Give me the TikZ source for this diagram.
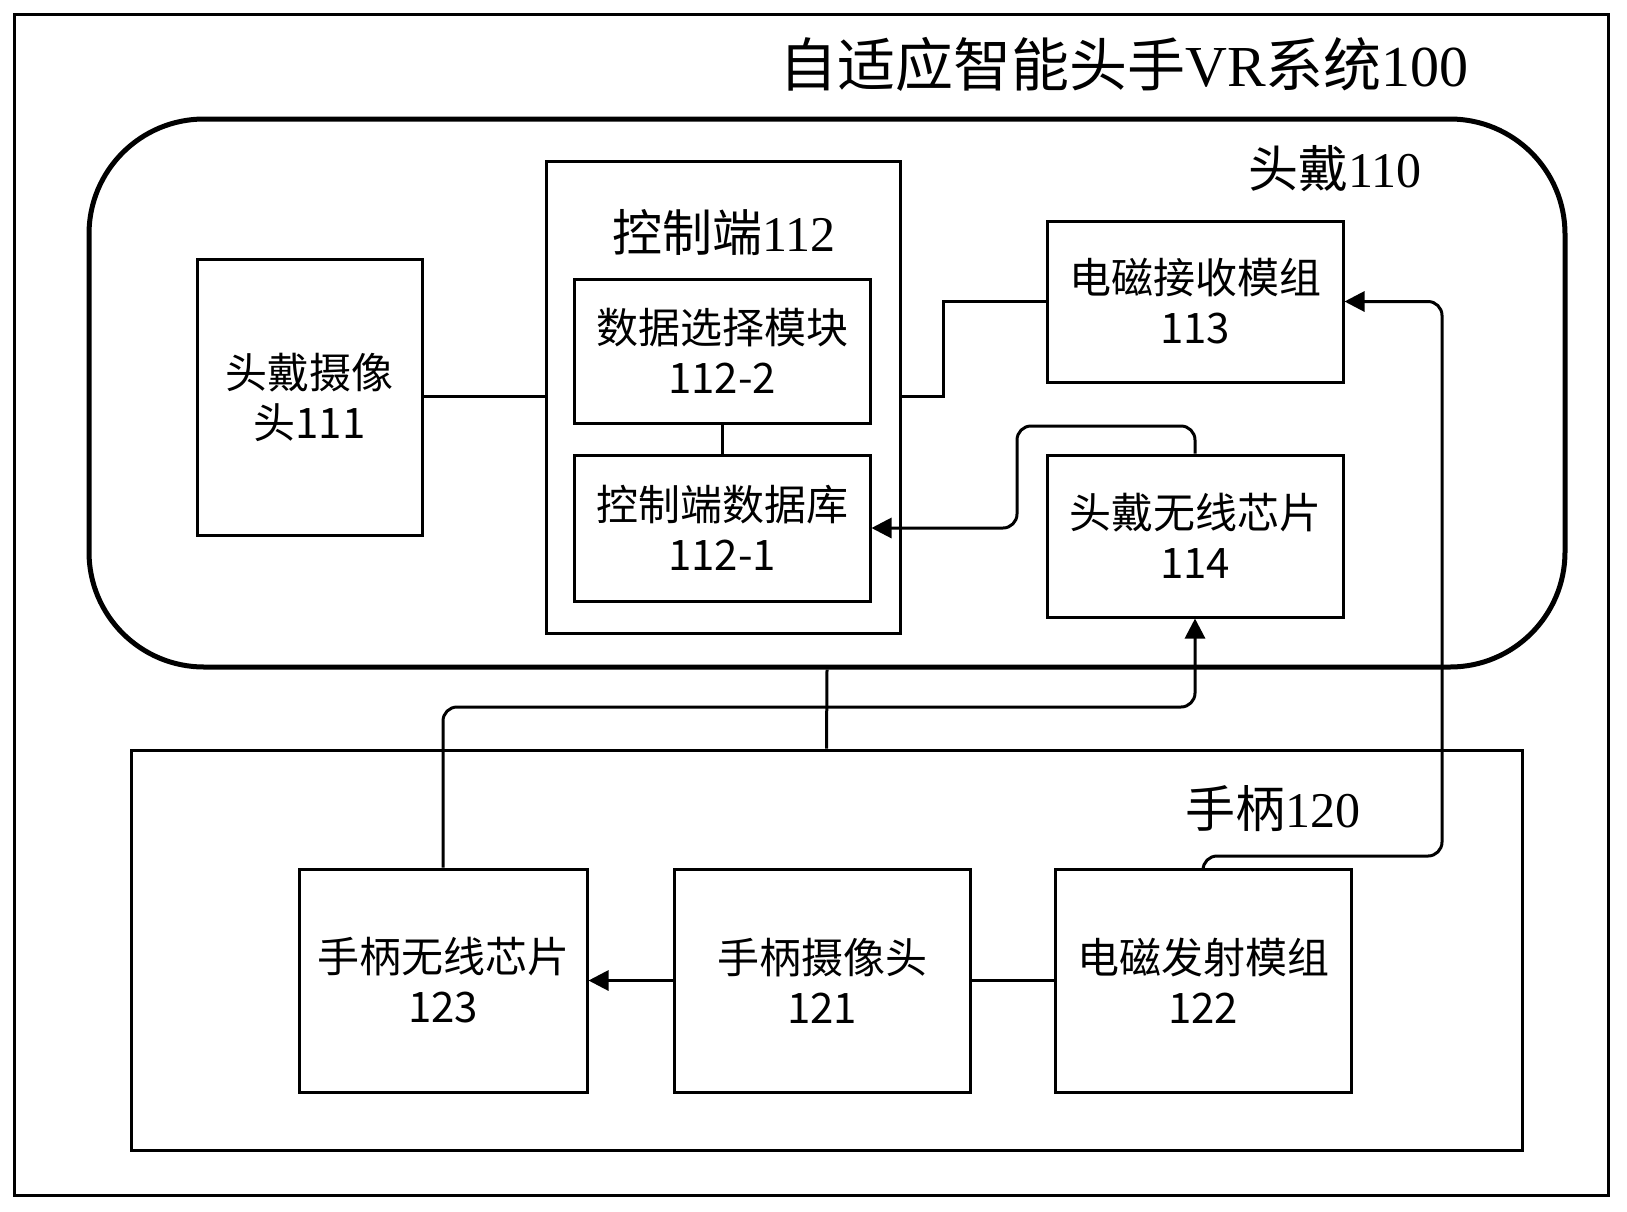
\documentclass[tikz,border=0pt]{standalone}
\usepackage{fontspec}
\setmainfont{Noto Sans CJK SC}
\newfontfamily\tnr{Liberation Serif}
\usetikzlibrary{arrows.meta}
\tikzset{
  box/.style={draw, line width=3pt, inner sep=0pt, align=center, font=\fontsize{42}{50}\selectfont},
  conn/.style={line width=3pt},
  arr/.style={line width=3pt, -{Triangle[length=20pt,width=20pt]}},
  lbl/.style={inner sep=0pt, font=\fontsize{50}{54}\selectfont}
}
\begin{document}
\begin{tikzpicture}[x=1pt,y=-1pt]
\useasboundingbox (0,0) rectangle (1627,1211);
\node[draw, line width=3pt, minimum width=1594pt, minimum height=1181pt, inner sep=0pt] (outer) at (811,604.5) {};
\node[inner sep=0pt, font=\fontsize{58}{62}\selectfont] (title) at (1124,64) {自适应智能头手{\tnr VR}系统{\tnr 100}};
% headset
\node[draw, line width=5pt, rounded corners=115pt, minimum width=1476pt, minimum height=548pt, inner sep=0pt] (hs) at (827,393) {};
\node[lbl] (hslbl) at (1335,169) {头戴{\tnr 110}};
\node[box, minimum width=225pt, minimum height=276pt] (cam) at (309.5,397) {头戴摄像\\头111};
\node[box, minimum width=354pt, minimum height=472pt] (ctrl) at (723,397) {};
\node[lbl] (ctrllbl) at (724,233) {控制端{\tnr 112}};
\node[box, minimum width=296pt, minimum height=144pt] (sel) at (722,351) {数据选择模块\\112-2};
\node[box, minimum width=296pt, minimum height=146pt] (db) at (722,528) {控制端数据库\\112-1};
\node[box, minimum width=296pt, minimum height=161pt] (rx) at (1195,301.5) {电磁接收模组\\113};
\node[box, minimum width=296pt, minimum height=162pt] (wl) at (1195,536) {头戴无线芯片\\114};
% handle
\node[draw, line width=3pt, minimum width=1391pt, minimum height=400pt, inner sep=0pt] (hb) at (826.5,950) {};
\node[lbl] (hblbl) at (1273,809) {手柄{\tnr 120}};
\node[box, minimum width=288pt, minimum height=223pt] (hw) at (443,980.5) {手柄无线芯片\\123};
\node[box, minimum width=296pt, minimum height=223pt] (hc) at (822,980.5) {手柄摄像头\\121};
\node[box, minimum width=296pt, minimum height=223pt] (tx) at (1203,980.5) {电磁发射模组\\122};
% coordinates
\coordinate (c1) at (1442,856);
\coordinate (c2) at (1017,426);
\coordinate (c3) at (1195,707);
% connectors
\draw[conn] (cam.east |- 0,396) -- (ctrl.west |- 0,396);
\draw[conn] (sel.south) -- (db.north);
\draw[conn] (ctrl.east |- 0,396) -- (943,396) |- (rx.west);
\draw[arr, rounded corners=14pt] (tx.north) |- (c1) |- (rx.east);
\draw[arr, rounded corners=14pt] (wl.north) |- (c2) |- (db.east);
\draw[arr, rounded corners=14pt] (hw.north) |- (c3) -- (wl.south);
\draw[conn] (hs.south) -- (hb.north);
\draw[arr] (hc.west) -- (hw.east);
\draw[conn] (hc.east) -- (tx.west);
\end{tikzpicture}
\end{document}
